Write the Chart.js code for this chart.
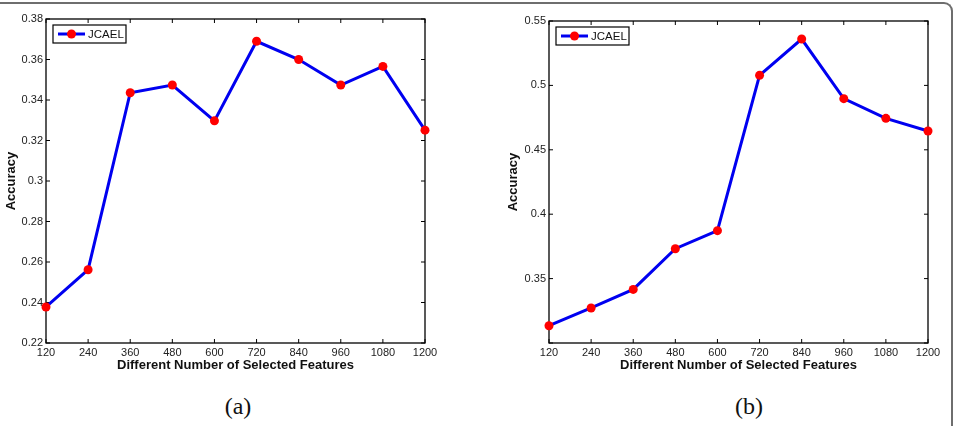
<!DOCTYPE html>
<html>
<head>
<meta charset="utf-8">
<script src="https://cdn.jsdelivr.net/npm/chart.js@4/dist/chart.umd.min.js"></script>
<style>
  html, body { margin: 0; padding: 0; background: #fff; }
  #page { position: relative; width: 956px; height: 426px; overflow: hidden; }
  .panel { position: absolute; top: 0; width: 478px; height: 380px; }
  .cap { position: absolute; top: 393px; width: 60px; text-align: center;
         font-family: "Liberation Serif", serif; font-size: 24px; color: #111; }
  #edge { position: absolute; left: -10px; top: 2px; width: 963px; height: 440px;
          border-top: 2px solid #6e6e6e; border-right: 2px solid #6e6e6e;
          border-top-right-radius: 9px; box-sizing: border-box; }
</style>
</head>
<body>
<div id="page">
  <div id="edge"></div>
  <div class="panel" style="left:0"><canvas id="chartA"></canvas></div>
  <div class="panel" style="left:478px"><canvas id="chartB"></canvas></div>
  <div class="cap" style="left:208px">(a)</div>
  <div class="cap" style="left:719px">(b)</div>
</div>
<script>
// number of selected features (x axis)
const features = [120, 240, 360, 480, 600, 720, 840, 960, 1080, 1200];

// accuracy of JCAEL, panel (a)
const accuracyA = [0.2378, 0.2562, 0.3436, 0.3474, 0.3297, 0.3690, 0.3600, 0.3474, 0.3566, 0.3251];
// accuracy of JCAEL, panel (b)
const accuracyB = [0.3134, 0.3272, 0.3416, 0.3732, 0.3872, 0.5078, 0.5360, 0.4897, 0.4744, 0.4646];

const seriesName = "JCAEL";
const xTitle = "Different Number of Selected Features";
const yTitle = "Accuracy";

const sans = "'Liberation Sans', Arial, Helvetica, sans-serif";

// box around the plot with inward ticks, matlab style
const frame = {
  id: "frame",
  beforeDatasetsDraw(chart) {
    const { ctx, chartArea: a, scales } = chart;
    const len = 4;
    ctx.save();
    ctx.strokeStyle = "#000";
    ctx.lineWidth = 1.3;
    ctx.strokeRect(a.left, a.top, a.right - a.left, a.bottom - a.top);
    ctx.lineWidth = 1;
    ctx.beginPath();
    scales.x.ticks.forEach(t => {
      const px = scales.x.getPixelForValue(t.value);
      ctx.moveTo(px, a.bottom); ctx.lineTo(px, a.bottom - len);
      ctx.moveTo(px, a.top); ctx.lineTo(px, a.top + len);
    });
    scales.y.ticks.forEach(t => {
      const py = scales.y.getPixelForValue(t.value);
      ctx.moveTo(a.left, py); ctx.lineTo(a.left + len, py);
      ctx.moveTo(a.right, py); ctx.lineTo(a.right - len, py);
    });
    ctx.stroke();
    ctx.restore();
  },
  afterDatasetsDraw(chart) {
    const { ctx, chartArea: a } = chart;
    const ds = chart.data.datasets[0];
    const x = a.left + 7, y = a.top + 6, w = 73, h = 18;
    ctx.save();
    ctx.fillStyle = "#fff";
    ctx.fillRect(x, y, w, h);
    ctx.strokeStyle = "#000";
    ctx.lineWidth = 1.2;
    ctx.strokeRect(x, y, w, h);
    const cy = y + h / 2;
    ctx.strokeStyle = ds.borderColor;
    ctx.lineWidth = ds.borderWidth;
    ctx.beginPath();
    ctx.moveTo(x + 5, cy); ctx.lineTo(x + 32, cy);
    ctx.stroke();
    ctx.fillStyle = ds.pointBackgroundColor;
    ctx.beginPath();
    ctx.arc(x + 18.5, cy, ds.pointRadius, 0, Math.PI * 2);
    ctx.fill();
    ctx.fillStyle = "#111";
    ctx.font = "11.5px " + sans;
    ctx.textBaseline = "middle";
    ctx.fillText(ds.label, x + 35, cy + 0.5);
    ctx.restore();
  }
};

const fmt = v => String(Math.round(v * 100) / 100);

function makeChart(id, values, yMin, yMax, yStep, pad, yWidth, hideMinLabel) {
  return new Chart(document.getElementById(id), {
    type: "line",
    data: {
      datasets: [{
        label: seriesName,
        data: features.map((f, i) => ({ x: f, y: values[i] })),
        borderColor: "#0000f0",
        borderWidth: 3,
        pointRadius: 4.5,
        pointHoverRadius: 4.5,
        pointBackgroundColor: "#ff0000",
        pointBorderColor: "#ff0000",
        pointBorderWidth: 0,
        tension: 0,
        clip: false
      }]
    },
    options: {
      responsive: false,
      maintainAspectRatio: false,
      animation: false,
      events: [],
      layout: { padding: pad },
      plugins: { legend: { display: false }, tooltip: { enabled: false } },
      scales: {
        x: {
          type: "linear",
          min: 120, max: 1200,
          grid: { display: false, drawTicks: false },
          border: { display: false },
          ticks: { stepSize: 120, padding: 3, color: "#222", font: { family: sans, size: 11 },
                   maxRotation: 0, autoSkip: false, callback: v => String(v) },
          title: { display: true, text: xTitle, color: "#111",
                   font: { family: sans, size: 13, weight: "bold" }, padding: { top: 0, bottom: 7 } },
          afterFit: s => { s.height = 37; }
        },
        y: {
          min: yMin, max: yMax,
          grid: { display: false, drawTicks: false },
          border: { display: false },
          ticks: { stepSize: yStep, padding: 3, color: "#222", font: { family: sans, size: 11 },
                   callback: v => (hideMinLabel && v <= yMin + 1e-6) ? "" : fmt(v) },
          title: { display: true, text: yTitle, color: "#111",
                   font: { family: sans, size: 13, weight: "bold" }, padding: { top: 4, bottom: 0 } },
          afterFit: s => { s.width = yWidth; }
        }
      }
    },
    plugins: [frame]
  });
}

["chartA", "chartB"].forEach(id => {
  const c = document.getElementById(id);
  c.width = 478; c.height = 380;
  c.style.width = "478px"; c.style.height = "380px";
});

makeChart("chartA", accuracyA, 0.22, 0.38, 0.02,
  { left: 0, top: 19, right: 53, bottom: 0 }, 46, false);
makeChart("chartB", accuracyB, 0.30, 0.55, 0.05,
  { left: 24, top: 21, right: 28, bottom: 0 }, 47, true);
</script>
</body>
</html>
